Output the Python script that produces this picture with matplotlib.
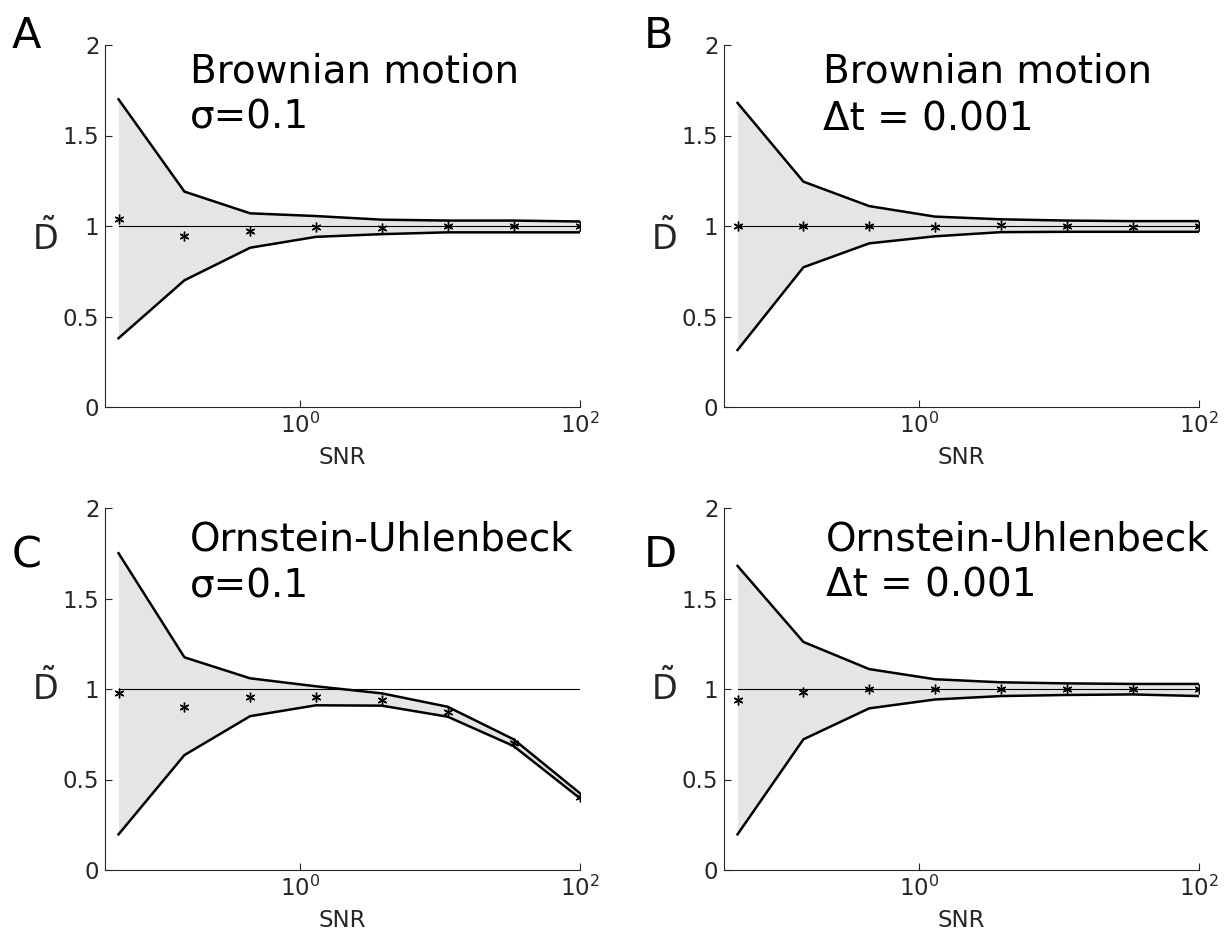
import numpy as np
import matplotlib
matplotlib.use("Agg")
import matplotlib.pyplot as plt

plt.rcParams['font.family'] = ['DejaVu Sans']
plt.rcParams['mathtext.fontset'] = 'dejavusans'

# ---------------------------------------------------------------
# data
# ---------------------------------------------------------------
snr = [0.05, 0.148, 0.437, 1.29, 3.82, 11.3, 33.5, 100.0]

a_upper = [1.70, 1.19, 1.07, 1.055, 1.035, 1.03, 1.03, 1.025]
a_lower = [0.38, 0.70, 0.88, 0.94, 0.955, 0.965, 0.965, 0.965]
a_mean = [1.04, 0.945, 0.974, 0.996, 0.99, 1.0, 1.0, 1.0]

b_upper = [1.68, 1.245, 1.11, 1.052, 1.037, 1.03, 1.027, 1.027]
b_lower = [0.315, 0.772, 0.904, 0.943, 0.966, 0.968, 0.968, 0.968]
b_mean = [1.0, 1.0, 1.0, 0.993, 1.005, 1.0, 0.995, 1.0]

c_upper = [1.75, 1.175, 1.059, 1.015, 0.976, 0.902, 0.722, 0.424]
c_lower = [0.197, 0.635, 0.85, 0.91, 0.908, 0.847, 0.685, 0.396]
c_mean = [0.976, 0.902, 0.957, 0.957, 0.939, 0.875, 0.70, 0.405]

d_upper = [1.68, 1.26, 1.11, 1.054, 1.037, 1.031, 1.028, 1.028]
d_lower = [0.197, 0.722, 0.893, 0.942, 0.961, 0.967, 0.97, 0.961]
d_mean = [0.94, 0.985, 0.998, 1.0, 0.998, 0.998, 0.998, 0.998]

panels = [
    ("A", "Brownian motion", "σ=0.1", a_upper, a_lower, a_mean),
    ("B", "Brownian motion", "Δt = 0.001", b_upper, b_lower, b_mean),
    ("C", "Ornstein-Uhlenbeck", "σ=0.1", c_upper, c_lower, c_mean),
    ("D", "Ornstein-Uhlenbeck", "Δt = 0.001", d_upper, d_lower, d_mean),
]

# ---------------------------------------------------------------

W, H = 1226, 936
fig = plt.figure(figsize=(W / 100, H / 100), dpi=100)

lefts = [105, 724]
bottoms = [407, 870]
ax_w, ax_h = 475, 362
grey = "#262626"

# per panel: text x (axes frac), line1 y, line2 y, D label baseline
text_pos = [
    (0.179, 1.795, 1.538, 0.867),
    (0.208, 1.795, 1.530, 0.867),
    (0.179, 1.765, 1.505, 0.939),
    (0.215, 1.765, 1.510, 0.939),
]
letter_y = [48, 48, 567, 567]

for i, (letter, line1, line2, upper, lower, mean) in enumerate(panels):
    row, col = i // 2, i % 2
    ax = fig.add_axes([lefts[col] / W, 1 - bottoms[row] / H, ax_w / W, ax_h / H])

    ax.fill_between(snr, lower, upper, color="#e5e5e5", lw=0)
    ax.plot(snr, upper, color="black", lw=1.8)
    ax.plot(snr, lower, color="black", lw=1.8)
    ax.plot([snr[0], snr[-1]], [1, 1], color="black", lw=0.8)
    ax.plot(snr, mean, ls="none", marker=(6, 2, 0), ms=7, mew=1.0,
            color="black")

    ax.set_xscale("log")
    ax.set_xlim(0.04, 100)
    ax.set_ylim(0, 2)
    ax.set_xticks([1, 100])
    ax.set_xticklabels([r"$10^0$", r"$10^2$"])
    ax.xaxis.set_minor_locator(matplotlib.ticker.NullLocator())
    ax.set_yticks([0, 0.5, 1, 1.5, 2])
    ax.set_yticklabels(["0", "0.5", "1", "1.5", "2"])
    ax.tick_params(direction="in", length=5, width=0.8, colors=grey,
                   labelsize=16.5, pad=4)
    for side in ["top", "right"]:
        ax.spines[side].set_visible(False)
    for side in ["left", "bottom"]:
        ax.spines[side].set_color(grey)
        ax.spines[side].set_linewidth(0.8)

    ax.set_xlabel("SNR", fontsize=16.5, color=grey, labelpad=6)

    tx, y1, y2, dy = text_pos[i]
    ax.text(tx, y1, line1, transform=ax.get_yaxis_transform(), fontsize=28,
            va="baseline", ha="left", color="black")
    ax.text(tx, y2, line2, transform=ax.get_yaxis_transform(), fontsize=28,
            va="baseline", ha="left", color="black")
    ax.text(-0.126, dy, r"$\tilde{\mathrm{D}}$", transform=ax.get_yaxis_transform(),
            fontsize=24, va="baseline", ha="center", color=grey)

    fig.text((12 + col * 632) / W, 1 - letter_y[i] / H, letter, fontsize=31,
             va="baseline", ha="left", color="black")

fig.savefig("out.png", dpi=100)
